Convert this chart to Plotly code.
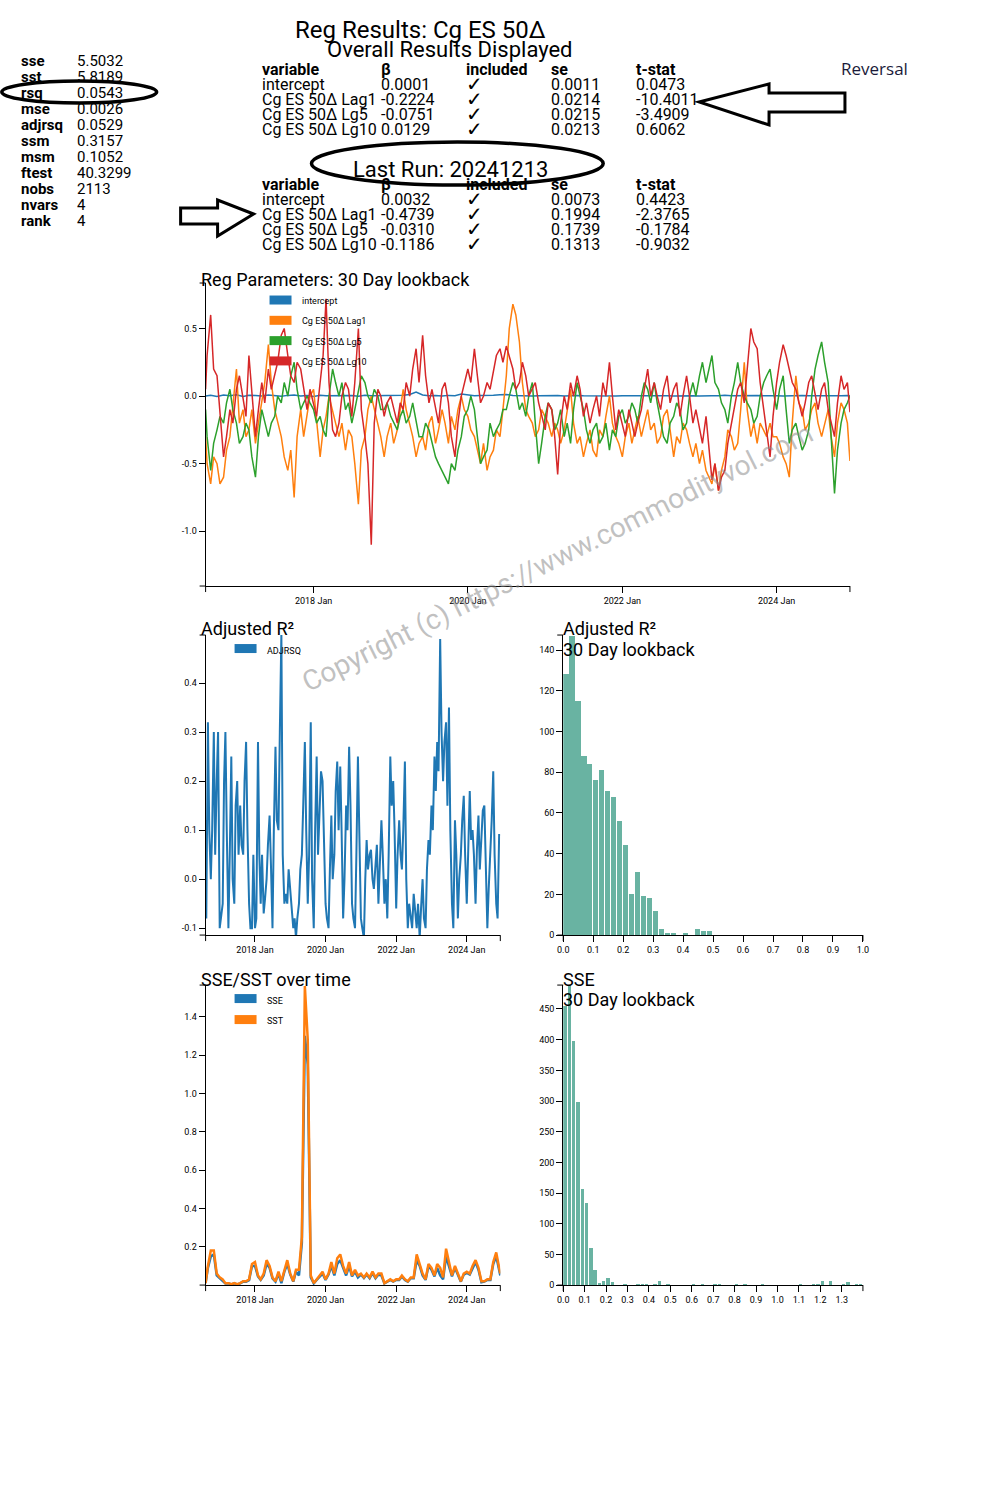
import plotly.graph_objects as go
import pandas as pd

# ---------------- data ----------------
dates_m = (["2016-08-08"]
           + [d.strftime("%Y-%m-%d") for d in pd.date_range("2016-09-01", "2024-12-01", freq="MS")]
           + ["2024-12-13"])
dates_sm = (["2016-08-08"]
            + [d.strftime("%Y-%m-%d") for d in pd.date_range("2016-08-15", "2024-12-01", freq="SMS")]
            + ["2024-12-13"])

intercept = [0.0, 0.005, -0.004, 0.008, 0.002, 0.01, -0.003, 0.006, 0.004, 0.0, 0.007,
             0.003, -0.002, 0.005, 0.008, 0.001, 0.004, -0.004, 0.006, 0.002, 0.003,
             0.0, 0.005, 0.004, -0.002, 0.006, 0.002, 0.003, 0.001, 0.004, 0.002,
             0.006, 0.012, 0.03, 0.008, 0.002, 0.004, 0.0, 0.005, 0.003, 0.015,
             0.006, 0.002, 0.004, 0.003, 0.006, 0.01, 0.012, 0.005, 0.002, 0.004,
             0.001, 0.003, 0.005, 0.002, 0.004, 0.0, 0.003, 0.005, 0.002, 0.001,
             0.004, 0.002, 0.003, 0.0, 0.002, 0.004, 0.001, 0.003, 0.002, 0.004,
             0.001, 0.003, 0.0, 0.002, 0.005, 0.003, 0.001, 0.004, 0.002, 0.003,
             0.006, 0.002, 0.004, 0.001, 0.003, 0.005, 0.002, 0.004, 0.003, 0.001,
             0.004, 0.002, 0.005, 0.003, 0.002, 0.004, 0.001, 0.003, 0.002, 0.004, 0.002]

lag1 = [-0.3, -0.5,
        -0.65, -0.45, -0.5, -0.65, -0.6, -0.4, -0.3, -0.05, 0.2, -0.2,
        -0.1, -0.3, -0.25, -0.1, -0.35, -0.2, -0.05, 0.1, 0.38, 0.1,
        -0.1, -0.2, -0.3, -0.45, -0.55, -0.4, -0.75, -0.3, -0.1, -0.3,
        -0.15, 0.0, 0.05, -0.2, -0.45, -0.25, -0.15, 0.0, -0.1, -0.2,
        -0.3, -0.2, -0.4, -0.25, -0.3, -0.5, -0.8, -0.4, -0.3, -0.1,
        0.0, -0.1, -0.2, -0.3, -0.45, -0.3, -0.2, -0.35, -0.25, -0.1,
        0.05, -0.1, -0.2, -0.3, -0.45, -0.35, -0.3, -0.4, -0.2, -0.15,
        -0.35, -0.25, -0.1, -0.2, -0.35, -0.15, -0.25, -0.1, 0.0, -0.1,
        -0.15, -0.25, -0.3, -0.4, -0.5, -0.35, -0.55, -0.45, -0.4, -0.25,
        -0.3, -0.1, 0.15, 0.5, 0.68, 0.6, 0.4, 0.1, -0.1, -0.15,
        -0.2, -0.3, -0.25, -0.1, -0.15, -0.2, -0.3, -0.2, -0.25, -0.35,
        -0.25, -0.1, 0.05, -0.2, -0.35, -0.3, -0.45, -0.35, -0.25, -0.4,
        -0.45, -0.25, -0.3, -0.15, 0.0, -0.2, -0.3, -0.35, -0.45, -0.3,
        -0.2, -0.35, -0.25, -0.15, -0.3, -0.2, -0.1, -0.25, -0.2, -0.35,
        -0.3, -0.15, -0.1, -0.25, -0.45, -0.3, -0.35, -0.2, -0.25, -0.35,
        -0.45, -0.35, -0.5, -0.4, -0.55, -0.6, -0.65, -0.5, -0.7, -0.55,
        -0.45, -0.25, -0.3, -0.4, -0.35, -0.1, 0.25, -0.1, -0.3, -0.2,
        -0.35, -0.2, -0.25, -0.3, -0.2, -0.3, -0.3, -0.35, -0.45, -0.5,
        -0.6, -0.2, 0.15, -0.05, -0.1, -0.25, -0.2, -0.1, -0.05, -0.2,
        -0.3, -0.2, -0.1, -0.3, -0.45, -0.2, -0.05, -0.1,
        -0.2, -0.48]

lg5 = [-0.1, -0.3,
       -0.55, -0.35, -0.25, -0.15, -0.2, -0.05, 0.05, -0.1, -0.2, -0.35,
       -0.3, -0.2, -0.25, -0.45, -0.6, -0.3, -0.1, -0.2, -0.3, -0.2,
       -0.15, 0.0, -0.05, 0.1, 0.0, 0.15, 0.25, 0.05, -0.1, -0.05,
       0.0, -0.05, -0.1, -0.2, -0.15, -0.25, -0.3, 0.0, 0.2, 0.1,
       0.0, 0.1, -0.1, -0.05, -0.2, -0.1, 0.05, 0.15, 0.1, 0.0,
       -0.05, 0.05, 0.0, -0.1, -0.1, -0.05, -0.15, -0.2, -0.25, -0.15,
       -0.1, -0.2, -0.15, -0.05, -0.2, -0.3, -0.3, -0.2, -0.25, -0.35,
       -0.45, -0.5, -0.55, -0.6, -0.65, -0.5, -0.55, -0.4, -0.3, -0.15,
       -0.1, 0.0, -0.1, -0.3, -0.5, -0.45, -0.4, -0.2, -0.3, -0.25,
       -0.2, -0.1, -0.1, 0.0, 0.1, 0.05, -0.1, -0.05, -0.15, 0.0,
       0.1, -0.2, -0.5, -0.35, -0.15, -0.05, -0.1, -0.25, -0.2, -0.1,
       -0.3, -0.2, -0.35, -0.1, 0.1, 0.0, -0.1, -0.25, -0.35, -0.25,
       -0.2, -0.35, -0.3, -0.2, -0.4, -0.25, -0.3, -0.15, -0.1, -0.2,
       -0.15, -0.05, -0.1, -0.2, 0.0, 0.1, 0.05, -0.05, 0.1, -0.05,
       -0.2, -0.3, -0.35, -0.2, -0.15, -0.05, -0.1, -0.25, -0.2, 0.0,
       0.1, 0.0, 0.15, 0.25, 0.1, 0.2, 0.3, 0.1, 0.05, -0.05,
       -0.1, -0.2, 0.0, 0.1, 0.25, 0.1, 0.0, -0.05, -0.1, -0.2,
       -0.15, 0.0, 0.1, 0.15, 0.2, 0.05, -0.1, 0.05, 0.15, -0.1,
       -0.35, -0.25, -0.2, -0.3, -0.4, -0.35, -0.25, 0.0, 0.2, 0.3,
       0.4, 0.25, 0.1, -0.3, -0.72, -0.4, -0.2, -0.1,
       -0.05, 0.0]

lg10 = [0.05, 0.3,
        0.6, 0.2, 0.15, -0.1, -0.45, -0.3, -0.1, -0.2, 0.05, 0.15,
        0.0, -0.15, 0.3, 0.0, -0.3, -0.1, 0.1, -0.05, 0.2, 0.05,
        0.15, 0.25, 0.45, 0.5, 0.3, 0.15, 0.1, 0.25, 0.2, 0.05,
        -0.1, 0.05, -0.05, -0.15, 0.1, 0.3, 0.72, 0.1, -0.25, -0.3,
        -0.2, 0.0, 0.1, 0.05, -0.15, 0.1, 0.5, -0.1, -0.3, -0.5,
        -1.1, -0.2, 0.05, 0.0, -0.15, -0.05, 0.0, -0.1, -0.2, -0.05,
        -0.1, 0.1, 0.0, 0.2, 0.35, 0.1, 0.45, 0.15, -0.05, 0.05,
        -0.1, -0.2, 0.05, 0.1, -0.05, -0.3, -0.45, -0.2, 0.0, 0.1,
        0.2, 0.1, 0.35, 0.15, -0.05, 0.0, 0.1, 0.05, 0.2, 0.3,
        0.35, 0.25, 0.37, 0.3, 0.2, 0.05, 0.1, 0.25, 0.15, 0.0,
        0.05, 0.1, -0.05, -0.15, -0.25, -0.05, -0.1, -0.3, -0.58, -0.2,
        0.0, -0.1, 0.1, 0.0, 0.15, 0.05, -0.15, -0.05, -0.2, -0.1,
        0.0, -0.15, 0.1, 0.0, 0.25, 0.0, -0.25, -0.1, -0.2, -0.3,
        -0.1, -0.2, -0.3, -0.2, -0.1, 0.05, 0.2, 0.0, 0.1, 0.0,
        -0.1, 0.05, 0.15, -0.05, 0.05, 0.1, -0.15, 0.0, 0.15, 0.0,
        -0.2, -0.1, -0.25, -0.35, -0.15, -0.4, -0.62, -0.5, -0.7, -0.6,
        -0.55, -0.35, -0.2, -0.1, 0.05, 0.1, -0.05, 0.2, 0.5, 0.4,
        0.35, 0.1, -0.1, -0.3, -0.45, -0.15, 0.1, 0.25, 0.38, 0.3,
        0.2, 0.1, 0.05, -0.05, -0.15, -0.05, 0.1, 0.15, 0.0, -0.1,
        0.05, 0.1, -0.1, -0.2, -0.3, -0.05, 0.15, 0.05,
        0.1, -0.12]

adjrsq = [0.12, -0.08,
          0.32, 0.1, 0.0, 0.1, 0.3, 0.05, 0.2, 0.3, -0.1, -0.08,
          -0.05, 0.2, 0.3, 0.1, -0.1, 0.05, 0.25, 0.0, -0.05, 0.15,
          0.2, 0.05, 0.15, 0.07, 0.05, 0.2, 0.28, 0.1, -0.05, -0.1,
          -0.1, 0.05, -0.1, -0.08, 0.28, 0.05, -0.05, 0.05, -0.07, -0.04,
          0.0, 0.07, 0.13, 0.03, -0.1, 0.1, 0.27, 0.12, 0.1, 0.3,
          0.5, 0.05, -0.05, -0.03, -0.05, 0.02, -0.02, -0.06, -0.1, -0.08,
          -0.12, -0.08, -0.05, 0.02, 0.05, 0.15, 0.28, 0.1, -0.05, 0.05,
          0.32, 0.0, -0.1, 0.1, 0.25, 0.05, 0.15, 0.22, 0.2, 0.05,
          -0.05, -0.08, -0.1, 0.02, 0.13, 0.0, 0.05, 0.18, 0.24, 0.1,
          0.23, 0.1, -0.08, 0.0, 0.15, 0.1, 0.27, 0.15, -0.05, -0.08,
          -0.1, 0.05, 0.25, 0.1, -0.08, -0.1, -0.12, 0.0, 0.08, 0.02,
          0.05, 0.06, 0.0, -0.02, 0.04, 0.07, -0.05, 0.02, 0.12, 0.05,
          -0.05, 0.0, -0.08, 0.05, 0.25, 0.15, 0.2, 0.1, -0.06, 0.05,
          0.12, 0.05, 0.02, 0.1, 0.24, 0.0, -0.1, -0.05, -0.08, -0.1,
          -0.03, -0.07, -0.1, -0.05, -0.12, -0.06, 0.0, -0.08, -0.1, 0.02,
          0.08, 0.05, 0.15, 0.1, 0.25, 0.18, 0.28, 0.22, 0.49, 0.3,
          0.2, 0.28, 0.32, 0.15, 0.35, 0.1, -0.05, -0.1, 0.12, 0.05,
          -0.08, 0.0, 0.05, 0.12, 0.17, 0.05, -0.05, 0.05, 0.18, 0.08,
          0.1, 0.05, -0.05, 0.06, 0.13, 0.02, 0.1, 0.14, 0.15, 0.05,
          -0.1, -0.02, 0.05, 0.12, 0.22, 0.05, -0.05, -0.08,
          0.09, 0.09]

sst = [0.01,
       0.1, 0.18, 0.18, 0.06, 0.04, 0.03, 0.01, 0.01, 0.005, 0.01,
       0.005, 0.01, 0.02, 0.02, 0.03, 0.11, 0.12, 0.05, 0.03, 0.06,
       0.13, 0.1, 0.04, 0.02, 0.07, 0.02, 0.08, 0.13, 0.06, 0.02,
       0.08, 0.08, 0.25, 1.56, 1.28, 0.05, 0.01, 0.03, 0.05, 0.07,
       0.03, 0.06, 0.12, 0.06, 0.14, 0.16, 0.1, 0.06, 0.12, 0.05,
       0.08, 0.05, 0.06, 0.04, 0.06, 0.04, 0.07, 0.04, 0.06, 0.06,
       0.01, 0.02, 0.03, 0.02, 0.03, 0.03, 0.05, 0.03, 0.02, 0.04,
       0.04, 0.16, 0.11, 0.06, 0.03, 0.11, 0.09, 0.05, 0.11, 0.09,
       0.04, 0.19, 0.12, 0.05, 0.1, 0.06, 0.02, 0.06, 0.07, 0.06,
       0.1, 0.13, 0.09, 0.02, 0.02, 0.03, 0.03, 0.12, 0.17, 0.09,
       0.06]

sse = [0.01,
       0.09, 0.15, 0.16, 0.05, 0.035, 0.025, 0.008, 0.009, 0.004, 0.009,
       0.004, 0.009, 0.018, 0.017, 0.026, 0.1, 0.1, 0.045, 0.027, 0.05,
       0.11, 0.09, 0.035, 0.018, 0.06, 0.01, 0.07, 0.11, 0.055, 0.018,
       0.07, 0.05, 0.22, 1.3, 1.15, 0.04, 0.009, 0.027, 0.045, 0.06,
       0.027, 0.055, 0.1, 0.05, 0.11, 0.13, 0.09, 0.05, 0.1, 0.045,
       0.07, 0.04, 0.055, 0.037, 0.055, 0.036, 0.063, 0.036, 0.055, 0.05,
       0.009, 0.018, 0.027, 0.018, 0.027, 0.027, 0.045, 0.027, 0.018, 0.036,
       0.036, 0.13, 0.1, 0.05, 0.027, 0.1, 0.08, 0.045, 0.09, 0.05,
       0.03, 0.15, 0.1, 0.045, 0.09, 0.055, 0.018, 0.055, 0.063, 0.055,
       0.09, 0.12, 0.08, 0.015, 0.018, 0.027, 0.027, 0.11, 0.15, 0.085,
       0.05]

hist_bin = 0.02
adjrsq_counts = [128, 147, 115, 88, 84, 76, 81, 71, 68, 56, 44, 20, 31, 19, 18, 12,
                 3, 1, 1, 0, 1, 0, 3, 2, 2]
sse_counts = [455, 489, 397, 299, 157, 133, 60, 24, 4, 6, 11, 5, 0, 0, 1, 0, 0, 2, 2, 2,
              0, 2, 6, 0, 1, 0, 0, 0, 0, 0, 1, 0, 1, 0, 0, 1, 1, 0, 0, 0,
              2, 0, 1, 0, 0, 0, 1, 0, 0, 0, 0, 0, 0, 0, 0, 1, 0, 0, 2, 2,
              7, 0, 6, 0, 0, 2, 5, 0, 1, 1]

stat_names = ["sse", "sst", "rsq", "mse", "adjrsq", "ssm", "msm", "ftest", "nobs", "nvars", "rank"]
stat_values = ["5.5032", "5.8189", "0.0543", "0.0026", "0.0529", "0.3157", "0.1052",
               "40.3299", "2113", "4", "4"]

tbl_headers = ["variable", "β", "included", "se", "t-stat"]
tbl_vars = ["intercept", "Cg ES 50Δ Lag1", "Cg ES 50Δ Lg5", "Cg ES 50Δ Lg10"]
overall_beta = ["0.0001", "-0.2224", "-0.0751", "0.0129"]
overall_se = ["0.0011", "0.0214", "0.0215", "0.0213"]
overall_t = ["0.0473", "-10.4011", "-3.4909", "0.6062"]
last_beta = ["0.0032", "-0.4739", "-0.0310", "-0.1186"]
last_se = ["0.0073", "0.1994", "0.1739", "0.1313"]
last_t = ["0.4423", "-2.3765", "-0.1784", "-0.9032"]

series_names = ["intercept", "Cg ES 50Δ Lag1", "Cg ES 50Δ Lg5", "Cg ES 50Δ Lg10"]
C = ["#1f77b4", "#ff7f0e", "#2ca02c", "#d62728"]
BAR = "#69b3a2"

W, H = 1000, 1500
# page coordinates corrected for the slight rescaling seen in the photograph
SX, OX, SY = 0.989, 5.2, 0.9966
def px(x): return ((x - OX) / SX) / W
def py(y): return 1 - (y / SY) / H

fig = go.Figure()

# ---- Reg parameters ----
fig.add_trace(go.Scatter(x=dates_m, y=intercept, mode="lines", name=series_names[0],
                         line=dict(color=C[0], width=1.5), xaxis="x", yaxis="y"))
for nm, vals, col in zip(series_names[1:], [lag1, lg5, lg10], C[1:]):
    fig.add_trace(go.Scatter(x=dates_sm, y=vals, mode="lines", name=nm,
                             line=dict(color=col, width=1.5), xaxis="x", yaxis="y"))
# ---- Adjusted R2 ----
fig.add_trace(go.Scatter(x=dates_sm, y=adjrsq, mode="lines", name="ADJRSQ",
                         line=dict(color=C[0], width=2), xaxis="x2", yaxis="y2"))
# ---- Adj R2 histogram ----
adj_centers = [hist_bin * (k + 0.5) for k in range(len(adjrsq_counts))]
fig.add_trace(go.Bar(x=adj_centers, y=adjrsq_counts, width=hist_bin * 0.84,
                     marker=dict(color=BAR, line=dict(width=0)), xaxis="x3", yaxis="y3"))
# ---- SSE / SST ----
fig.add_trace(go.Scatter(x=dates_m, y=sse, mode="lines", name="SSE",
                         line=dict(color=C[0], width=2.5), xaxis="x4", yaxis="y4"))
fig.add_trace(go.Scatter(x=dates_m, y=sst, mode="lines", name="SST",
                         line=dict(color=C[1], width=2.5), xaxis="x4", yaxis="y4"))
# ---- SSE histogram ----
sse_centers = [hist_bin * (k + 0.5) for k in range(len(sse_counts))]
fig.add_trace(go.Bar(x=sse_centers, y=sse_counts, width=hist_bin * 0.78,
                     marker=dict(color=BAR, line=dict(width=0)), xaxis="x5", yaxis="y5"))

tickfont = dict(family="Roboto", size=9, color="black")
def axis(**kw):
    base = dict(showline=True, linecolor="black", linewidth=1, ticks="outside", ticklen=6,
                tickwidth=1, tickcolor="black", showgrid=False, zeroline=False,
                tickfont=tickfont, fixedrange=True)
    base.update(kw)
    return base

date_ticks = ["2018-01-01", "2020-01-01", "2022-01-01", "2024-01-01"]
date_text = ["2018 Jan", "2020 Jan", "2022 Jan", "2024 Jan"]
drange = ["2016-08-08", "2024-12-13"]

def dom_x(l, r): return [px(l), px(r)]
def dom_y(top, bot): return [py(bot), py(top)]

fig.update_layout(
    width=W, height=H, autosize=False, margin=dict(l=0, r=0, t=0, b=0),
    paper_bgcolor="white", plot_bgcolor="rgba(0,0,0,0)", showlegend=False,
    xaxis=axis(domain=dom_x(205, 850), anchor="y", type="date", range=drange,
               tickvals=date_ticks, ticktext=date_text),
    yaxis=axis(domain=dom_y(283, 586), anchor="x", range=[-1.405, 0.836],
               tickvals=[-1.0, -0.5, 0.0, 0.5], ticktext=["-1.0", "-0.5", "0.0", "0.5"]),
    xaxis2=axis(domain=dom_x(205, 500), anchor="y2", type="date", range=drange,
                tickvals=date_ticks, ticktext=date_text),
    yaxis2=axis(domain=dom_y(635, 935), anchor="x2", range=[-0.114, 0.498],
                tickvals=[-0.1, 0.0, 0.1, 0.2, 0.3, 0.4],
                ticktext=["-0.1", "0.0", "0.1", "0.2", "0.3", "0.4"]),
    xaxis3=axis(domain=dom_x(563, 863), anchor="y3", range=[0, 1.0],
                tickvals=[i / 10 for i in range(11)], ticktext=[f"{i/10:.1f}" for i in range(11)]),
    yaxis3=axis(domain=dom_y(635, 935), anchor="x3", range=[0, 147.4],
                tickvals=list(range(0, 141, 20))),
    xaxis4=axis(domain=dom_x(205, 500), anchor="y4", type="date", range=drange,
                tickvals=date_ticks, ticktext=date_text),
    yaxis4=axis(domain=dom_y(985, 1285), anchor="x4", range=[0.0, 1.565],
                tickvals=[0.2, 0.4, 0.6, 0.8, 1.0, 1.2, 1.4],
                ticktext=["0.2", "0.4", "0.6", "0.8", "1.0", "1.2", "1.4"]),
    xaxis5=axis(domain=dom_x(563, 863), anchor="y5", range=[0, 1.399],
                tickvals=[i / 10 for i in range(14)], ticktext=[f"{i/10:.1f}" for i in range(14)]),
    yaxis5=axis(domain=dom_y(985, 1285), anchor="x5", range=[0, 489],
                tickvals=list(range(0, 451, 50))),
    bargap=0,
)

ann = []
shapes = []
def text(x, y, s, size=16, bold=False, anchor="left", color="black", family="Roboto"):
    if bold:
        s = "<b>" + s + "</b>"
    ann.append(dict(x=px(x), y=py(y), xref="paper", yref="paper", text=s, showarrow=False,
                    xanchor=anchor, yanchor="middle", borderpad=0,
                    font=dict(family=family, size=size, color=color)))

def line(x0, y0, x1, y1, w=1, col="black"):
    shapes.append(dict(type="line", xref="paper", yref="paper", x0=px(x0), y0=py(y0),
                       x1=px(x1), y1=py(y1), line=dict(color=col, width=w)))

def rect(x0, y0, x1, y1, col):
    shapes.append(dict(type="rect", xref="paper", yref="paper", x0=px(x0), y0=py(y0),
                       x1=px(x1), y1=py(y1), line=dict(width=0), fillcolor=col))

def path(pts, w=3):
    d = "M " + " L ".join(f"{px(a):.5f},{py(b):.5f}" for a, b in pts) + " Z"
    shapes.append(dict(type="path", xref="paper", yref="paper", path=d,
                       line=dict(color="black", width=w), fillcolor="rgba(0,0,0,0)"))

def ellipse(x0, y0, x1, y1, w=3.5):
    shapes.append(dict(type="circle", xref="paper", yref="paper", x0=px(x0), y0=py(y0),
                       x1=px(x1), y1=py(y1), line=dict(color="black", width=w)))

# stats table
for i, (n, v) in enumerate(zip(stat_names, stat_values)):
    yy = 61 + 16 * i
    text(19, yy, n, size=15, bold=True)
    text(75, yy, v, size=15)

# titles
text(420, 30, "Reg Results: Cg ES 50Δ", size=24, anchor="center")
text(450, 49, "Overall Results Displayed", size=22, anchor="center")
text(450, 169, "Last Run: 20241213", size=22, anchor="center")

cols_x = [260, 380, 465, 550, 635]
def table(y0, betas, ses, ts):
    for cx, h in zip(cols_x, tbl_headers):
        text(cx, y0, h, size=16, bold=True)
    for r, vn in enumerate(tbl_vars):
        yy = y0 + 15 * (r + 1)
        text(cols_x[0], yy, vn, size=16)
        text(cols_x[1], yy, betas[r], size=16)
        text(cols_x[2], yy, "✓", size=20, family="DejaVu Sans")
        text(cols_x[3], yy, ses[r], size=16)
        text(cols_x[4], yy, ts[r], size=16)

table(69, overall_beta, overall_se, overall_t)
table(184, last_beta, last_se, last_t)

text(840, 68, "Reversal", size=17, color="#1b1b3a", family="Open Sans")

# ellipses & arrows
ellipse(1, 81, 156, 103)
ellipse(311, 142, 603, 185)
path([(699, 102), (769, 84), (769, 93), (845, 93), (845, 112), (769, 112), (769, 125)])
path([(180, 208), (217, 208), (217, 200), (253, 214), (217, 236), (217, 224), (180, 224)])

# chart titles
text(199, 279, "Reg Parameters: 30 Day lookback", size=18)
text(199, 628, "Adjusted R²", size=18)
text(562, 628, "Adjusted R²", size=18)
text(562, 649, "30 Day lookback", size=18)
text(199, 979, "SSE/SST over time", size=18)
text(562, 979, "SSE", size=18)
text(562, 999, "30 Day lookback", size=18)

# legends
for i, (nm, col) in enumerate(zip(series_names, C)):
    yy = 300 + 20.3 * i
    rect(269, yy - 4.5, 291, yy + 4.5, col)
    text(300, yy + 1, nm, size=9)
rect(234, 644, 256, 653, C[0]); text(265, 651, "ADJRSQ", size=9)
rect(234, 994, 256, 1003, C[0]); text(265, 1001, "SSE", size=9)
rect(234, 1015, 256, 1024, C[1]); text(265, 1021, "SST", size=9)

# d3-style outer ticks at axis ends
def outer(xl, xr, yt, yb):
    line(xl - 6, yt, xl, yt); line(xl - 6, yb, xl, yb)
    line(xl, yb, xl, yb + 6); line(xr, yb, xr, yb + 6)
outer(205, 850, 283, 586)
outer(205, 500, 635, 935)
outer(563, 863, 635, 935)
outer(205, 500, 985, 1285)
outer(563, 863, 985, 1285)

# watermark
ann.append(dict(x=px(557), y=py(557), xref="paper", yref="paper",
                text="Copyright (c) https://www.commodityvol.com", showarrow=False,
                textangle=-26.5, font=dict(family="Roboto", size=28, color="rgba(140,140,140,0.55)"),
                xanchor="center", yanchor="middle"))

fig.update_layout(annotations=ann, shapes=shapes)
fig.write_html("out.html", config={"displayModeBar": False},
               post_script="document.body.style.margin='0';document.body.style.overflow='hidden';")
